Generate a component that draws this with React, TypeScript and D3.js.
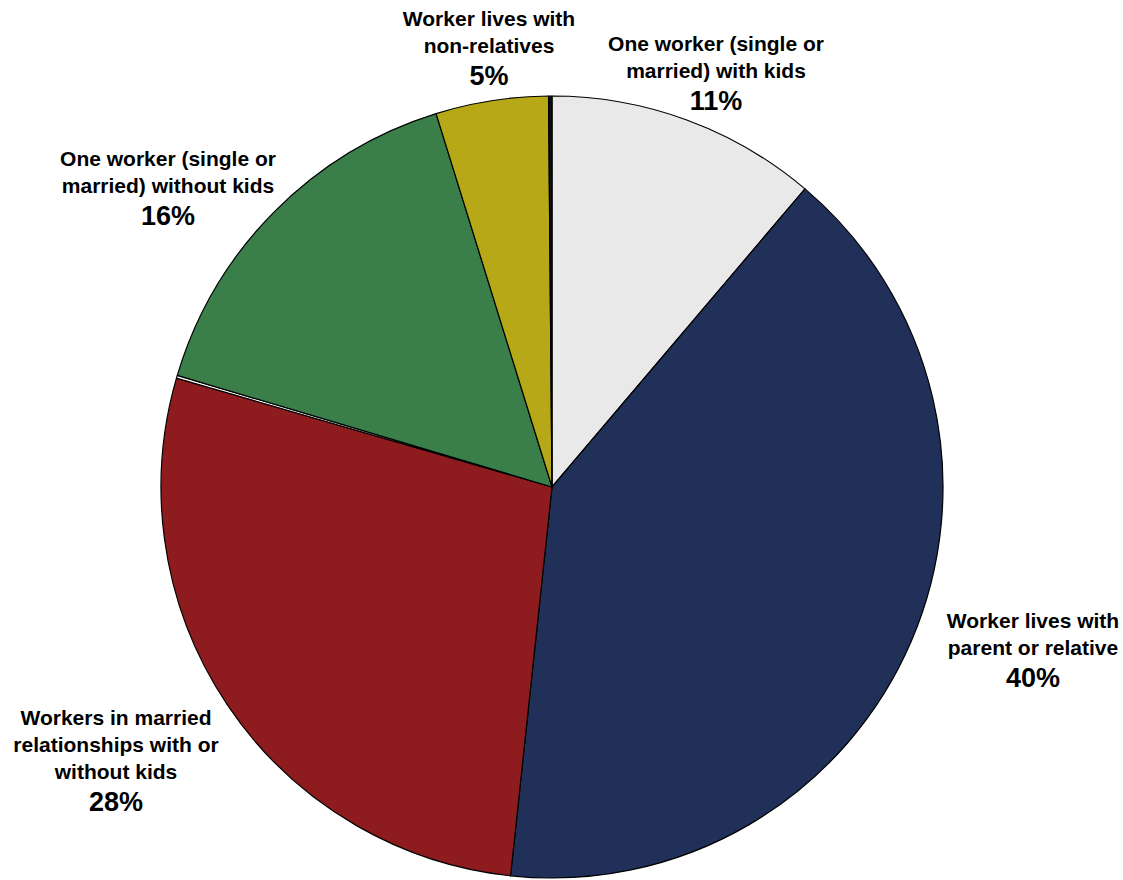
import React from "react";
import * as d3 from "d3";

// Household arrangement shares, clockwise from 12 o'clock
const categories = [
  "One worker (single or married) with kids",
  "Worker lives with parent or relative",
  "Workers in married relationships with or without kids",
  "Other (married)",
  "One worker (single or married) without kids",
  "Worker lives with non-relatives",
  "Other",
];
const shares = [11.2, 40.49, 27.8, 0.12, 15.6, 4.65, 0.14];
const sliceColors = ["#e9e9e9", "#213058", "#8e1b1e", "#ffffff", "#3a7f4a", "#b6a817", "#111111"];

// Label text lines (null = slice not labelled)
const labelLines: (string[] | null)[] = [
  ["One worker (single or", "married) with kids"],
  ["Worker lives with", "parent or relative"],
  ["Workers in married", "relationships with or", "without kids"],
  null,
  ["One worker (single or", "married) without kids"],
  ["Worker lives with", "non-relatives"],
  null,
];

// Label block placement (centre x, top line y)
const labelLayout: ([number, number] | null)[] = [
  [716, 43],
  [1033, 620],
  [116, 717],
  null,
  [168, 158],
  [489, 18],
  null,
];

const W = 1123;
const H = 880;
const cx = 552;
const cy = 487;
const radius = 391;
const lineStep = 27;

export default function App() {
  const total = d3.sum(shares);
  const pie = d3
    .pie<number>()
    .sort(null)
    .value((d) => d)
    .startAngle(0)
    .endAngle(2 * Math.PI);
  const arcs = pie(shares);
  const arcGen = d3.arc<d3.PieArcDatum<number>>().innerRadius(0).outerRadius(radius);
  const font = "'Liberation Sans', Arial, sans-serif";

  return (
    <svg
      width={W}
      height={H}
      style={{ position: "absolute", left: 0, top: 0, background: "#fff" }}
    >
      <g transform={`translate(${cx},${cy})`}>
        {arcs.map((a, i) => (
          <path
            key={categories[i]}
            d={arcGen(a) || ""}
            fill={sliceColors[i]}
            stroke="#000"
            strokeWidth={1.2}
            strokeLinejoin="round"
          />
        ))}
      </g>
      {arcs.map((a, i) => {
        const lines = labelLines[i];
        const pos = labelLayout[i];
        if (!lines || !pos) return null;
        const pct = Math.round((a.value / total) * 100) + "%";
        return (
          <g key={"lab" + i} fontFamily={font} fontWeight="bold" fill="#000" textAnchor="middle">
            {lines.map((t, j) => (
              <text key={j} x={pos[0]} y={pos[1] + j * lineStep} dominantBaseline="central" fontSize={21}>
                {t}
              </text>
            ))}
            <text
              x={pos[0]}
              y={pos[1] + lines.length * lineStep + 4}
              dominantBaseline="central"
              fontSize={27}
            >
              {pct}
            </text>
          </g>
        );
      })}
    </svg>
  );
}
